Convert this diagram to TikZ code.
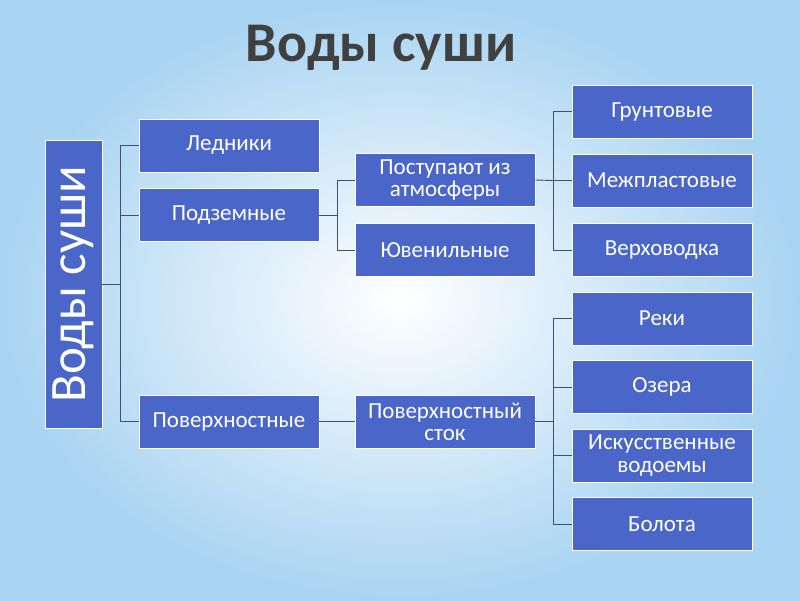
\documentclass[tikz,border=0pt]{standalone}
\usepackage{fontspec}
\setmainfont{Carlito}
\usetikzlibrary{positioning}
\definecolor{boxblue}{HTML}{4A66C8}
\definecolor{linegray}{HTML}{3F4F70}
\definecolor{skyedge}{HTML}{A9D4F2}
\tikzset{
  box/.style={draw=white,line width=0.8pt,fill=boxblue,text=white,minimum width=180pt,
    minimum height=53pt,align=center,font=\fontsize{23}{22}\selectfont,inner sep=1pt},
  link/.style={draw=linegray,line width=0.9pt}
}
\begin{document}
\begin{tikzpicture}[x=1pt,y=-1pt]
  % background
  \shade[inner color=white,outer color=skyedge] (0,0) rectangle (800,600);
  \useasboundingbox (0,0) rectangle (800,600);
  \node[text=black!75,font=\bfseries\fontsize{56}{56}\selectfont] (title) at (381,48) {Воды суши};

  \node[box,minimum width=288pt,minimum height=57pt,rotate=90,
        font=\fontsize{51}{51}\selectfont] (root) at (73.5,284) {Воды суши};

  \node[box] (led)   at (229,145.5) {Ледники};
  \node[box] (podz)  at (229,215)   {Подземные};
  \node[box] (pov)   at (229,421.5) {Поверхностные};

  \node[box] (post) at (445,180) {Поступают из\\атмосферы};
  \node[box] (juv)   at (445,250)   {Ювенильные};
  \node[box] (stok) at (445,421.5) {Поверхностный\\сток};

  \node[box] (grun)  at (662,111.5) {Грунтовые};
  \node[box] (mezh)  at (662,180.5) {Межпластовые};
  \node[box] (verh)  at (662,250)   {Верховодка};
  \node[box] (reki)  at (662,318.5) {Реки};
  \node[box] (ozer)  at (662,387)   {Озера};
  \node[box] (isk) at (662,455.5) {Искусственные\\водоемы};
  \node[box] (bol)   at (662,524)   {Болота};

  % connectors
  \coordinate (j1) at (120,284);
  \draw[link] (root.south) -- (j1);
  \foreach \n in {led,podz,pov} \draw[link] (j1) |- (\n.west);
  \coordinate (j2) at (337,215);
  \draw[link] (podz.east) -- (j2);
  \foreach \n in {post,juv} \draw[link] (j2) |- (\n.west);
  \draw[link] (pov.east) -- (stok.west);
  \coordinate (j3) at (553,180.5);
  \draw[link] (post.east) -- (j3);
  \foreach \n in {grun,mezh,verh} \draw[link] (j3) |- (\n.west);
  \coordinate (j4) at (553,421.5);
  \draw[link] (stok.east) -- (j4);
  \foreach \n in {reki,ozer,isk,bol} \draw[link] (j4) |- (\n.west);
\end{tikzpicture}
\end{document}
